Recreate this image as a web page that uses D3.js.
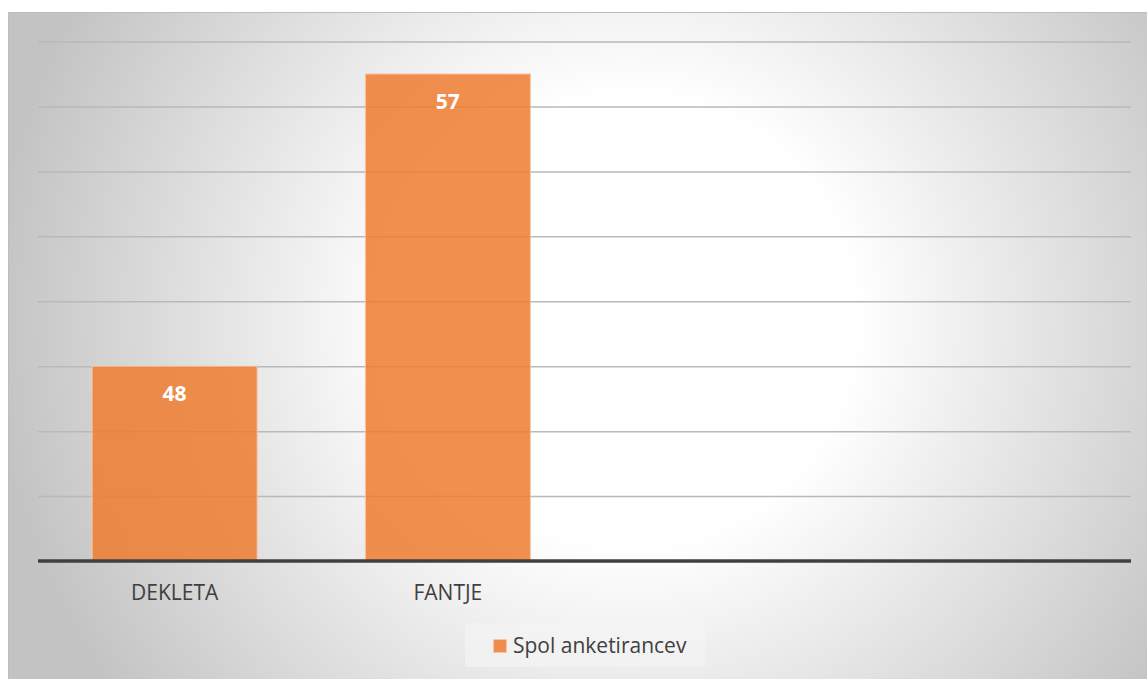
<!DOCTYPE html>
<html>
<head>
<meta charset="utf-8">
<script src="https://cdn.jsdelivr.net/npm/d3@7"></script>
<style>
  html, body { margin: 0; padding: 0; background: #ffffff; }
  svg { display: block; }
</style>
</head>
<body>
<svg id="chart" width="1147" height="679"></svg>
<script>
// ---- data ----
const categories = ["DEKLETA", "FANTJE", "", ""];
const values = [48, 57, null, null];
const seriesName = "Spol anketirancev";
const yTicks = [42, 44, 46, 48, 50, 52, 54, 56, 58];

// ---- layout ----
const W = 1147, H = 679;
const plot = { left: 38, right: 1131, top: 41.5, bottom: 561 };
const svg = d3.select("#chart");
const FONT = "'Open Sans', 'Noto Sans', sans-serif";

// background gradient
const defs = svg.append("defs");
const grad = defs.append("radialGradient")
  .attr("id", "bg").attr("gradientUnits", "userSpaceOnUse")
  .attr("cx", 630).attr("cy", 320).attr("r", 640);
grad.append("stop").attr("offset", 0).attr("stop-color", "#ffffff");
grad.append("stop").attr("offset", 0.35).attr("stop-color", "#ffffff");
grad.append("stop").attr("offset", 1).attr("stop-color", "#c3c3c3");

svg.append("rect").attr("x", 8).attr("y", 12).attr("width", W - 8).attr("height", H - 12)
  .attr("fill", "url(#bg)");
svg.append("line").attr("x1", 8).attr("x2", W).attr("y1", 12.5).attr("y2", 12.5)
  .attr("stroke", "#bdbdbd").attr("stroke-width", 1);
svg.append("line").attr("x1", 8.5).attr("x2", 8.5).attr("y1", 12).attr("y2", H)
  .attr("stroke", "#bdbdbd").attr("stroke-width", 1);

// scales
const x = d3.scaleBand()
  .domain(d3.range(categories.length))
  .range([plot.left, plot.right])
  .paddingInner(0.396).paddingOuter(0.198);
const y = d3.scaleLinear().domain([42, 58]).range([plot.bottom, plot.top]);

// gridlines
const grid = svg.append("g")
  .attr("transform", `translate(${plot.left},0)`)
  .call(d3.axisLeft(y).tickValues(yTicks.slice(1)).tickSize(-(plot.right - plot.left)).tickFormat(""));
grid.select(".domain").remove();
grid.selectAll(".tick line").attr("stroke", "#b9b9b9").attr("stroke-width", 1.5);

// bars
const data = categories.map((c, i) => ({ i, c, v: values[i] })).filter(d => d.v != null);
svg.append("g").selectAll("rect").data(data).join("rect")
  .attr("x", d => x(d.i))
  .attr("y", d => y(d.v))
  .attr("width", x.bandwidth())
  .attr("height", d => y(42) - y(d.v))
  .attr("fill", "#ed7d31").attr("fill-opacity", 0.86)
  .attr("stroke", "#f7c7a4").attr("stroke-width", 1);

// value labels
svg.append("g").selectAll("text").data(data).join("text")
  .attr("x", d => x(d.i) + x.bandwidth() / 2)
  .attr("y", d => y(d.v) + 35)
  .attr("text-anchor", "middle")
  .attr("font-family", FONT).attr("font-weight", "bold").attr("font-size", 21)
  .attr("fill", "#ffffff")
  .text(d => d.v);

// x axis (baseline + category labels)
const xAxis = svg.append("g")
  .attr("transform", `translate(0,${y(42)})`)
  .call(d3.axisBottom(x).tickSize(0).tickPadding(0).tickFormat(i => categories[i]));
xAxis.select(".domain").attr("stroke", "#404040").attr("stroke-width", 3.5)
  .attr("d", `M${plot.left},0H${plot.right}`);
xAxis.selectAll(".tick text")
  .attr("y", 39).attr("dy", 0)
  .attr("font-family", FONT).attr("font-size", 21).attr("fill", "#404040");

// legend
const lg = svg.append("g");
lg.append("rect").attr("x", 465).attr("y", 623).attr("width", 240).attr("height", 44)
  .attr("fill", "#f3f3f3").attr("fill-opacity", 0.7);
lg.append("rect").attr("x", 493.5).attr("y", 639.5).attr("width", 13).attr("height", 13)
  .attr("fill", "#ed7d31").attr("fill-opacity", 0.86)
  .attr("stroke", "#f7c7a4").attr("stroke-width", 1);
lg.append("text").attr("x", 513).attr("y", 653)
  .attr("font-family", FONT).attr("font-size", 21).attr("fill", "#404040")
  .text(seriesName);
</script>
</body>
</html>
